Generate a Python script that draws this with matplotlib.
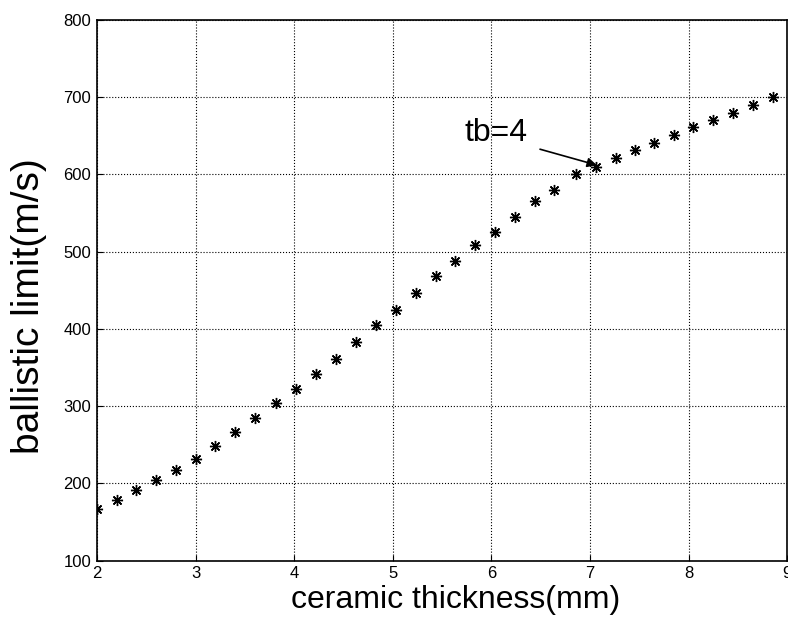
import matplotlib.pyplot as plt

# ceramic thickness (mm) vs ballistic limit (m/s)
thickness = [2.0, 2.2, 2.4, 2.6, 2.8, 3.0, 3.2, 3.4, 3.6, 3.82,
             4.02, 4.22, 4.42, 4.63, 4.83, 5.03, 5.24, 5.44, 5.63, 5.83,
             6.04, 6.24, 6.44, 6.64, 6.86, 7.06, 7.26, 7.46, 7.65, 7.85,
             8.04, 8.25, 8.45, 8.65, 8.86]
ballistic = [167, 178, 191, 204, 217, 232, 249, 267, 285, 304,
             322, 342, 361, 383, 405, 425, 447, 469, 488, 509,
             526, 545, 565, 580, 600, 609, 621, 631, 641, 651,
             661, 671, 680, 690, 700]

xticks = [2, 3, 4, 5, 6, 7, 8, 9]
yticks = [100, 200, 300, 400, 500, 600, 700, 800]

plt.rcParams['font.family'] = ['Liberation Sans', 'DejaVu Sans']

fig = plt.figure(figsize=(7.88, 6.21), dpi=100)
ax = fig.add_axes([0.123, 0.097, 0.876, 0.871])

# MATLAB style '*' marker = 8-spoke asterisk
ax.plot(thickness, ballistic, linestyle='none', marker=(8, 2, 0),
        markersize=8, color='black', markeredgewidth=1.0)

ax.set_xlim(2, 9)
ax.set_ylim(100, 800)
ax.set_xticks(xticks)
ax.set_yticks(yticks)
ax.tick_params(direction='in', length=4, width=0.8, labelsize=12, pad=4)
ax.grid(True, linestyle=':', color='black', linewidth=0.8)
for s in ax.spines.values():
    s.set_linewidth(1.2)

ax.set_xlabel('ceramic thickness(mm)', fontsize=23)
ax.set_ylabel('ballistic limit(m/s)', fontsize=28)
ax.xaxis.set_label_coords(0.52, -0.045)
ax.yaxis.set_label_coords(-0.072, 0.47)

ax.annotate('tb=4', xy=(7.07, 612), xytext=(5.73, 653),
            fontsize=23, va='center', ha='left',
            arrowprops=dict(arrowstyle='-|>', color='black', lw=1.2,
                            shrinkA=2, shrinkB=0, mutation_scale=14,
                            relpos=(1.15, 0.0)))

fig.savefig('out.png', dpi=100)
